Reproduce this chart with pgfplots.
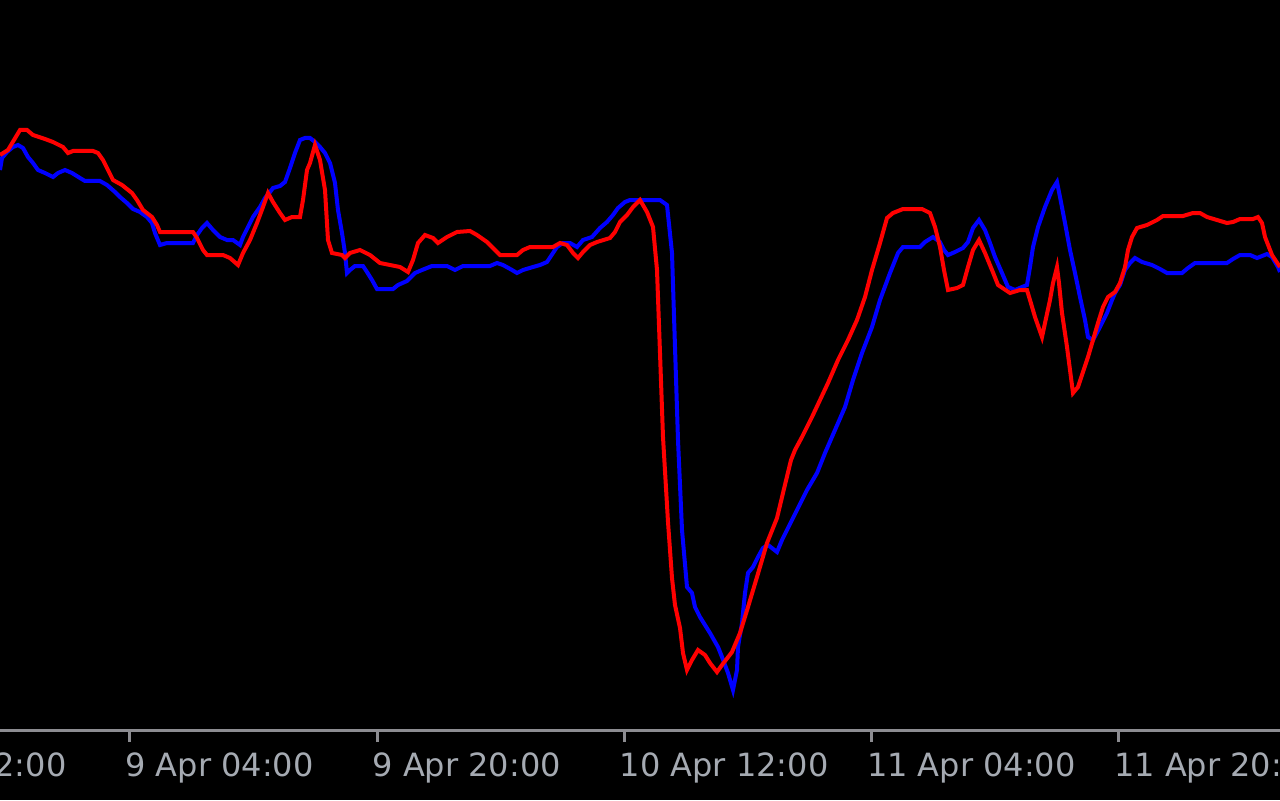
\documentclass[border=0pt]{standalone}
\usepackage{pgfplots}
\pgfplotsset{compat=1.18}
\usepackage{fontspec}
\setmainfont{DejaVu Sans}
\definecolor{axisgray}{RGB}{140,140,145}
\definecolor{labelgray}{RGB}{165,170,178}

% positions in pixels (x from left, y above the time axis)
\pgfplotstableread{
x y
0 560
2 572
7 578
13 583
18 585
23 582
28 573
33 567
38 560
45 557
53 553
58 557
65 560
72 557
80 552
85 549
100 549
107 545
115 538
120 533
127 527
133 521
140 518
147 513
152 507
155 497
160 485
167 487
193 487
197 495
202 502
207 507
213 500
220 493
227 490
233 490
240 485
243 493
248 503
253 513
260 523
265 532
270 538
273 542
280 544
285 548
290 562
295 577
300 590
305 592
310 592
315 588
320 583
325 577
330 567
335 547
338 520
342 497
345 477
347 457
350 460
355 464
363 464
367 458
372 450
377 441
393 441
398 445
407 449
415 457
422 460
432 464
447 464
455 460
463 464
490 464
497 467
503 465
512 460
517 457
523 460
533 463
540 465
547 468
553 477
557 483
563 487
570 487
577 483
583 490
592 493
600 502
607 508
613 515
618 522
625 528
630 530
660 530
667 525
672 477
675 383
678 290
682 200
687 143
692 137
695 123
700 113
710 97
718 83
722 73
728 57
733 40
737 60
738 83
742 107
745 137
748 157
753 163
758 173
763 182
768 185
777 178
782 190
787 200
797 220
807 240
817 257
825 277
835 300
845 323
853 350
862 377
872 403
880 430
890 457
898 477
903 483
920 483
925 488
933 493
940 488
944 480
948 475
955 478
963 482
968 488
973 502
979 510
985 500
990 487
995 473
1002 457
1008 443
1015 440
1022 443
1027 445
1030 463
1033 483
1038 503
1045 523
1052 540
1057 548
1060 533
1065 507
1070 480
1075 457
1080 433
1085 410
1088 393
1093 390
1100 403
1107 417
1112 430
1115 437
1120 445
1125 460
1130 467
1135 472
1142 468
1152 465
1160 461
1167 457
1182 457
1188 462
1195 467
1227 467
1233 471
1240 475
1250 475
1257 472
1267 476
1272 473
1278 463
1280 458
}\blueline

\pgfplotstableread{
x y
0 575
8 580
20 600
27 600
33 595
45 591
53 588
63 583
68 577
73 579
93 579
98 577
103 570
107 562
113 550
122 545
132 537
137 530
143 520
152 513
157 505
160 498
193 498
197 492
203 480
207 475
223 475
230 472
238 465
243 477
250 490
257 507
263 523
268 537
273 528
280 517
285 510
292 513
300 513
303 530
307 560
310 567
315 585
320 570
325 540
328 490
332 477
342 475
345 472
350 477
360 480
370 475
380 467
400 463
408 458
413 470
418 487
425 495
433 492
438 487
447 493
457 498
470 499
477 495
487 488
493 482
500 475
517 475
523 480
530 483
553 483
560 487
567 485
573 477
578 472
583 478
590 485
597 488
610 492
615 498
620 508
627 515
633 523
640 530
647 518
653 503
657 460
660 377
663 293
668 208
672 152
675 125
680 102
683 77
687 60
692 70
698 80
705 75
710 67
717 58
722 65
732 78
740 97
748 123
757 153
767 187
777 212
783 237
791 270
795 280
802 293
812 313
820 330
828 347
838 370
848 390
857 410
865 433
872 460
880 487
887 512
893 517
903 521
922 521
930 517
935 503
940 483
944 460
948 440
957 442
963 445
968 463
973 480
979 490
985 477
992 460
998 445
1010 437
1020 440
1027 440
1030 430
1035 413
1042 393
1045 407
1050 430
1053 447
1057 463
1059 447
1062 417
1067 383
1073 337
1078 343
1088 373
1098 407
1103 423
1108 433
1115 438
1120 447
1125 463
1128 480
1132 493
1137 502
1147 505
1157 510
1163 514
1183 514
1193 517
1200 517
1207 513
1217 510
1227 507
1233 508
1240 511
1253 511
1258 513
1262 507
1265 493
1272 475
1280 463
}\redline

\begin{document}
\begin{tikzpicture}
  \fill[black, use as bounding box] (0,0) rectangle (640pt,400pt);
  \clip (0,0) rectangle (640pt,400pt);
  \begin{axis}[
    at={(0pt,35pt)}, anchor=south west,
    scale only axis,
    width=640pt, height=365pt,
    xmin=0, xmax=1280,
    ymin=0, ymax=730,
    clip=false,
    axis x line=bottom,
    hide y axis,
    axis line style={-, axisgray, line width=1.5pt},
    xtick={130,377.2,624.4,871.6,1118.8},
    xticklabels={9 Apr 04:00, 9 Apr 20:00, 10 Apr 12:00, 11 Apr 04:00, 11 Apr 20:00},
    tick align=outside,
    major tick length=6pt,
    xtick style={axisgray, line width=1.5pt},
    xticklabel style={anchor=north west, inner sep=0pt, xshift=-2.5pt, yshift=-5pt,
      font=\fontsize{16}{19}\selectfont, text=labelgray},
  ]
    \addplot[blue, line width=2pt, no markers] table[x=x, y=y] {\blueline};
    \addplot[red, line width=2pt, no markers] table[x=x, y=y] {\redline};
    \node[anchor=north west, inner sep=0pt, xshift=-2.5pt, yshift=-11pt,
      font=\fontsize{16}{19}\selectfont, text=labelgray]
      at (axis cs:-117.2,0) {8 Apr 12:00};
  \end{axis}
\end{tikzpicture}
\end{document}
